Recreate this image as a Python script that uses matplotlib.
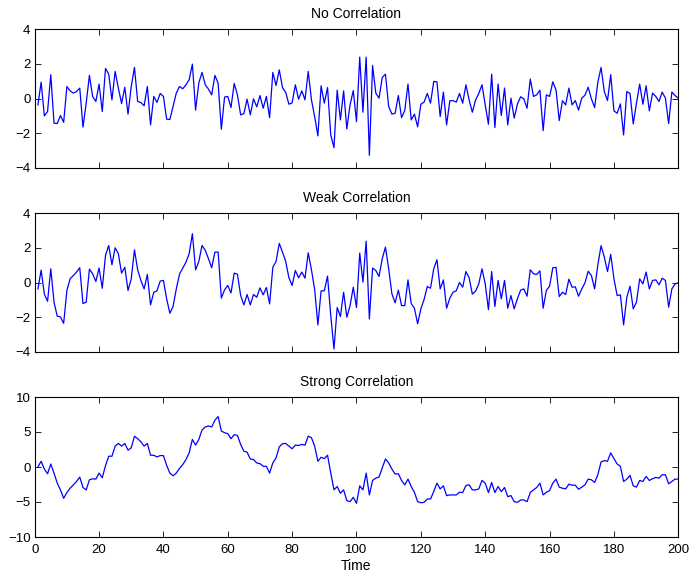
import matplotlib
matplotlib.use("Agg")
import matplotlib.pyplot as plt
import numpy as np

plt.rcParams['font.family'] = ['Liberation Sans', 'DejaVu Sans']

titles = ["No Correlation", "Weak Correlation", "Strong Correlation"]
xlabel = "Time"

no_corr = [
    -0.37, 0.94, -1.0, -0.75, 1.37, -1.42, -1.44, -0.98, -1.37, 0.69,
    0.44, 0.31, 0.4, 0.6, -1.65, -0.27, 1.33, 0.12, -0.17, 0.83,
    -0.75, 1.73, 1.4, -0.08, 1.56, 0.6, -0.29, 0.65, -0.9, 0.69,
    1.79, -0.17, -0.23, -0.42, 0.69, -1.52, 0.12, -0.23, 0.29, 0.12,
    -1.19, -1.21, -0.46, 0.31, 0.69, 0.56, 0.79, 1.08, 1.98, -0.67,
    0.9, 1.5, 0.79, 0.54, 0.21, 1.33, 0.88, -1.77, 0.08, 0.12,
    -0.52, 0.87, 0.21, -0.94, -0.87, -0.04, -0.94, -0.02, -0.48, 0.17,
    -0.56, 0.12, -1.1, 1.5, 0.75, 1.65, 0.63, 0.35, -0.33, -0.25,
    0.79, -0.04, 0.44, -0.08, 1.56, -0.08, -1.04, -2.15, 0.73, -0.27,
    0.63, -2.1, -2.83, 0.48, -1.23, 0.44, -1.75, -0.37, 0.46, -1.33,
    2.38, -0.79, 2.38, -3.27, 1.9, 0.31, 0.02, 1.21, 1.4, -0.46,
    -0.9, -0.85, 0.17, -1.1, -0.69, 0.83, -1.23, -0.9, -1.63, -0.33,
    -0.21, 0.29, -0.27, 0.98, 0.96, -1.04, 0.37, -1.52, -0.13, -0.12,
    -0.21, 0.29, -0.27, 0.79, -0.08, -0.79, -0.08, 0.29, 0.79, -0.37,
    -1.48, 1.40, -1.67, 0.83, -0.98, 0.60, -1.52, 0.02, -1.13, -0.33,
    0.1, -0.02, -0.56, 1.12, 0.12, 0.21, 0.48, -1.85, 0.21, 0.12,
    0.96, 0.5, -1.27, -0.13, -0.37, 0.6, -0.37, -0.12, -0.67, 0.02,
    0.19, 0.65, -0.02, -0.52, 0.94, 1.79, 0.4, -0.12, 1.37, -0.71,
    -0.85, -0.31, -2.1, 0.4, 0.29, -1.46, -0.27, 0.83, -0.33, 0.73,
    -0.71, 0.31, 0.12, -0.17, 0.37, 0.02, -1.44, 0.37, 0.17, 0.02,
]

weak_corr = [
    -0.37, 0.71, -0.67, -1.08, 0.79, -1.13, -1.94, -1.98, -2.35, -0.46,
    0.21, 0.4, 0.6, 0.85, -1.21, -1.13, 0.77, 0.5, 0.06, 0.83,
    -0.33, 1.56, 2.13, 1.02, 2.0, 1.65, 0.54, 0.88, -0.46, 0.21,
    1.88, 0.73, 0.12, -0.37, 0.46, -1.29, -0.56, -0.48, 0.08, 0.12,
    -0.94, -1.77, -1.38, -0.37, 0.48, 0.83, 1.17, 1.65, 2.81, 0.73,
    1.21, 2.13, 1.85, 1.37, 0.85, 1.75, 1.75, -0.9, -0.42, -0.17,
    -0.6, 0.54, 0.48, -0.75, -1.29, -0.69, -1.29, -0.69, -0.85, -0.31,
    -0.71, -0.29, -1.23, 0.88, 1.21, 2.25, 1.75, 1.21, 0.27, -0.17,
    0.69, 0.27, 0.6, 0.25, 1.71, 0.73, -0.4, -2.44, -0.48, -0.48,
    0.37, -1.9, -3.83, -1.44, -1.96, -0.56, -2.0, -1.33, -0.27, -1.44,
    1.69, 0.02, 2.38, -2.1, 0.83, 0.69, 0.35, 1.37, 2.04, 0.79,
    -0.65, -1.17, -0.44, -1.33, -1.33, 0.15, -1.21, -1.48, -2.38, -1.52,
    -0.98, -0.23, -0.33, 0.79, 1.31, -0.37, 0.15, -1.48, -0.9, -0.56,
    -0.48, 0.0, -0.27, 0.63, 0.27, -0.67, -0.5, -0.08, 0.79, -0.08,
    -1.56, 0.63, -1.38, 0.12, -0.94, 0.12, -1.48, -0.75, -1.52, -0.94,
    -0.44, -0.37, -0.79, 0.73, 0.5, 0.46, 0.67, -1.48, -0.46, -0.21,
    0.85, 0.87, -0.81, -0.56, -0.69, 0.19, -0.27, -0.25, -0.79, -0.37,
    -0.02, 0.65, 0.4, -0.37, 1.02, 2.12, 1.46, 0.63, 1.62, 0.21,
    -0.75, -0.71, -2.44, -0.85, -0.21, -1.52, -1.13, 0.21, -0.08, 0.6,
    -0.37, 0.12, 0.15, -0.13, 0.25, 0.12, -1.42, -0.37, -0.08, -0.02,
]

strong_corr = [
    0.0, 0.82, -0.29, -0.96, 0.43, -0.87, -2.3, -3.27, -4.47, -3.65,
    -3.03, -2.55, -2.07, -1.44, -2.93, -3.27, -1.83, -1.68, -1.73, -0.87,
    -1.54, 0.19, 1.54, 1.54, 2.98, 3.37, 2.98, 3.37, 2.4, 2.74,
    4.38, 4.04, 3.6, 2.98, 3.37, 1.68, 1.68, 1.44, 1.63, 1.63,
    0.24, -0.87, -1.25, -0.87, -0.19, 0.34, 1.06, 2.02, 3.94, 3.13,
    3.94, 5.29, 5.72, 5.87, 5.72, 6.68, 7.21, 5.14, 4.9, 4.76,
    4.04, 4.62, 4.52, 3.22, 2.26, 2.12, 1.15, 1.06, 0.58, 0.48,
    0.1, 0.1, -0.87, 0.58, 1.3, 2.88, 3.32, 3.37, 2.98, 2.6,
    3.13, 3.08, 3.22, 3.13, 4.42, 4.18, 2.98, 0.82, 1.39, 1.2,
    1.68, -0.87, -3.27, -2.79, -3.75, -3.27, -4.81, -4.95, -4.33, -5.19,
    -2.69, -3.27, -0.87, -3.99, -1.92, -1.59, -1.44, -0.14, 1.15, 0.58,
    -0.29, -1.01, -0.96, -1.92, -2.55, -1.73, -2.79, -3.61, -4.95, -5.1,
    -5.05, -4.57, -4.57, -3.51, -2.31, -3.13, -2.69, -4.09, -3.99, -3.99,
    -3.99, -3.61, -3.65, -2.64, -2.55, -3.27, -3.27, -3.13, -1.92, -2.31,
    -3.65, -2.21, -3.65, -2.79, -3.51, -2.93, -4.23, -4.09, -4.95, -5.05,
    -4.71, -4.71, -4.95, -3.65, -3.27, -2.93, -2.31, -3.99, -3.61, -3.37,
    -2.31, -1.73, -2.88, -3.03, -3.13, -2.45, -2.6, -2.6, -3.17, -2.88,
    -2.55, -1.73, -1.83, -2.21, -1.11, 0.72, 0.91, 0.82, 2.02, 1.2,
    0.43, 0.1, -2.07, -1.73, -1.2, -2.69, -2.88, -1.92, -2.07, -1.35,
    -1.92, -1.68, -1.49, -1.59, -1.11, -1.11, -2.4, -2.07, -1.73, -1.73,
]

series = [no_corr, weak_corr, strong_corr]
ylims = [(-4, 4), (-4, 4), (-10, 10)]
yticks = [[-4, -2, 0, 2, 4], [-4, -2, 0, 2, 4], [-10, -5, 0, 5, 10]]
xticks = list(range(0, 201, 20))

fig = plt.figure(figsize=(6.93, 5.73), dpi=100)
left = 34.7 / 693
width = 643.6 / 693
tops = [29, 213, 397]
bottoms = [168, 352, 537]

for i in range(3):
    b = 1 - bottoms[i] / 573
    h = (bottoms[i] - tops[i]) / 573
    ax = fig.add_axes([left, b, width, h])
    y = series[i]
    t = np.arange(1, len(y) + 1)
    ax.plot(t, y, color=(0, 0, 1), linewidth=0.9)
    ax.set_xlim(0, 200)
    ax.set_ylim(*ylims[i])
    ax.set_xticks(xticks)
    ax.set_yticks(yticks[i])
    ax.tick_params(direction='in', top=True, right=True, length=4,
                   labelsize=9.5, width=0.6, pad=3)
    ax.tick_params(axis='x', pad=5)
    if i < 2:
        ax.set_xticklabels([])
    else:
        ax.set_xlabel(xlabel, fontsize=10, labelpad=2)
    ax.set_title(titles[i], fontsize=10, pad=8)
    for s in ax.spines.values():
        s.set_linewidth(0.8)

fig.savefig("out.png", dpi=100)
